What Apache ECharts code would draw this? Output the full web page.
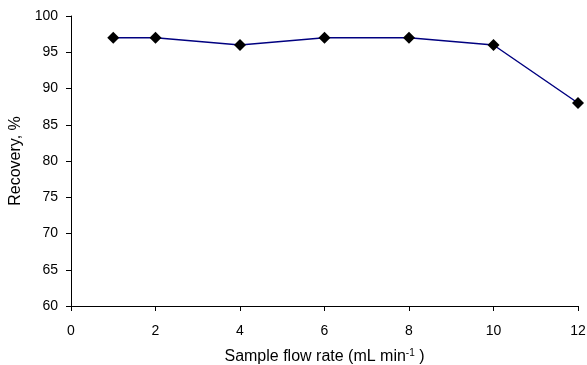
<!DOCTYPE html>
<html><head><meta charset="utf-8">
<script src="https://cdn.jsdelivr.net/npm/echarts@6/dist/echarts.min.js"></script>
<style>html,body{margin:0;padding:0;background:#fff}#c{width:587px;height:365px}</style>
</head><body><div id="c"></div>
<script>
const flowRates = [1, 2, 4, 6, 8, 10, 12];
const recovery = [97, 97, 96, 97, 97, 96, 88];
const xTicks = [0, 2, 4, 6, 8, 10, 12];
const yTicks = [60, 65, 70, 75, 80, 85, 90, 95, 100];

const chart = echarts.init(document.getElementById('c'), null, {renderer: 'canvas'});
const font = 'Liberation Sans, Arial, sans-serif';
chart.setOption({
  animation: false,
  grid: {left: 71, right: 9, top: 16, bottom: 59, containLabel: false, outerBoundsMode: 'none'},
  xAxis: {
    type: 'value', min: xTicks[0], max: xTicks[xTicks.length-1], interval: 2,
    axisLine: {show: true, lineStyle: {color: '#000', width: 1}},
    axisTick: {show: true, length: 5, lineStyle: {color: '#000'}},
    splitLine: {show: false},
    axisLabel: {color: '#000', fontFamily: font, fontSize: 14, margin: 18},
    name: '{n|Sample flow rate (mL min}{s|-1}{n| )}',
    nameLocation: 'middle', nameGap: 42,
    nameTextStyle: {rich: {
      n: {fontFamily: font, fontSize: 16, color: '#000', verticalAlign: 'bottom'},
      s: {fontFamily: font, fontSize: 10, color: '#000', verticalAlign: 'top', padding: [0,0,7,0]}
    }}
  },
  yAxis: {
    type: 'value', min: yTicks[0], max: yTicks[yTicks.length-1], interval: 5,
    axisLine: {show: true, lineStyle: {color: '#000', width: 1}},
    axisTick: {show: true, length: 5, lineStyle: {color: '#000'}},
    splitLine: {show: false},
    axisLabel: {color: '#000', fontFamily: font, fontSize: 14, margin: 13},
    name: 'Recovery, %', nameLocation: 'middle', nameGap: 42, nameRotate: 90,
    nameTextStyle: {fontFamily: font, fontSize: 16, color: '#000'}
  },
  series: [{
    type: 'line',
    data: flowRates.map((x, i) => [x, recovery[i]]),
    symbol: 'diamond', symbolSize: 12,
    itemStyle: {color: '#000'},
    lineStyle: {color: '#000080', width: 1.5},
    z: 3
  }]
});
</script></body></html>
